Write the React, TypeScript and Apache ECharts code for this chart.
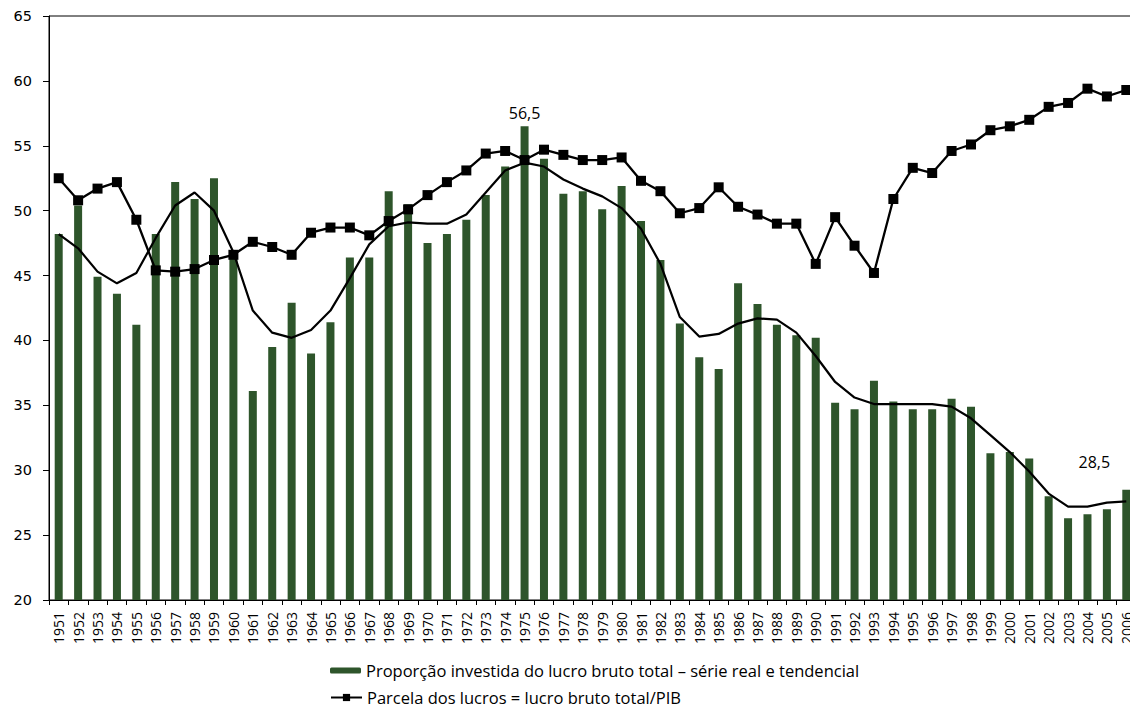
import React, { useEffect, useRef } from "react";
import * as echarts from "echarts";

const years = [
  "1951","1952","1953","1954","1955","1956","1957","1958","1959","1960",
  "1961","1962","1963","1964","1965","1966","1967","1968","1969","1970",
  "1971","1972","1973","1974","1975","1976","1977","1978","1979","1980",
  "1981","1982","1983","1984","1985","1986","1987","1988","1989","1990",
  "1991","1992","1993","1994","1995","1996","1997","1998","1999","2000",
  "2001","2002","2003","2004","2005","2006",
];

const proporcaoInvestida = [
  48.2, 50.4, 44.9, 43.6, 41.2, 48.2, 52.2, 50.9, 52.5, 46.6,
  36.1, 39.5, 42.9, 39.0, 41.4, 46.4, 46.4, 51.5, 50.5, 47.5,
  48.2, 49.3, 51.2, 53.4, 56.5, 54.0, 51.3, 51.5, 50.1, 51.9,
  49.2, 46.2, 41.3, 38.7, 37.8, 44.4, 42.8, 41.2, 40.4, 40.2,
  35.2, 34.7, 36.9, 35.3, 34.7, 34.7, 35.5, 34.9, 31.3, 31.4,
  30.9, 28.0, 26.3, 26.6, 27.0, 28.5,
];

const tendencia = [
  48.2, 47.1, 45.3, 44.4, 45.2, 47.9, 50.4, 51.4, 50.0, 46.8,
  42.3, 40.6, 40.2, 40.8, 42.3, 44.8, 47.4, 48.8, 49.1, 49.0,
  49.0, 49.7, 51.4, 53.1, 53.7, 53.4, 52.4, 51.7, 51.1, 50.2,
  48.6, 45.9, 41.8, 40.3, 40.5, 41.3, 41.7, 41.6, 40.6, 38.8,
  36.8, 35.6, 35.1, 35.1, 35.1, 35.1, 34.9, 34.0, 32.7, 31.4,
  29.9, 28.2, 27.2, 27.2, 27.5, 27.6,
];

const parcelaLucros = [
  52.5, 50.8, 51.7, 52.2, 49.3, 45.4, 45.3, 45.5, 46.2, 46.6,
  47.6, 47.2, 46.6, 48.3, 48.7, 48.7, 48.1, 49.2, 50.1, 51.2,
  52.2, 53.1, 54.4, 54.6, 53.9, 54.7, 54.3, 53.9, 53.9, 54.1,
  52.3, 51.5, 49.8, 50.2, 51.8, 50.3, 49.7, 49.0, 49.0, 45.9,
  49.5, 47.3, 45.2, 50.9, 53.3, 52.9, 54.6, 55.1, 56.2, 56.5,
  57.0, 58.0, 58.3, 59.4, 58.8, 59.3,
];

const barName = "Proporção investida do lucro bruto total – série real e tendencial";
const lineName = "Parcela dos lucros = lucro bruto total/PIB";
const trendName = "Tendência";

const labelledYears = ["1975", "2006"];

const GREEN = "#2e552b";
const SANS = "'Open Sans', 'Noto Sans', sans-serif";

export default function App() {
  const ref = useRef<HTMLDivElement>(null);

  useEffect(() => {
    if (!ref.current) return;
    const chart = echarts.init(ref.current, undefined, { renderer: "svg" });

    const barData = proporcaoInvestida.map((v, i) => {
      const y = years[i];
      if (!labelledYears.includes(y)) return v;
      const isLast = y === "2006";
      return {
        value: v,
        label: {
          show: true,
          position: "top",
          distance: 5,
          offset: isLast ? [-32, -15] : [0, 0],
          formatter: (p: any) => String(p.value).replace(".", ","),
          color: "#000",
          fontSize: 16,
          fontFamily: SANS,
        },
      };
    });

    const legendText = { fontSize: 16.5, fontFamily: SANS, color: "#000" };

    chart.setOption({
      animation: false,
      backgroundColor: "#fff",
      grid: {
        left: 49,
        right: 0,
        top: 16,
        bottom: 108,
        show: true,
        borderColor: "#000",
        borderWidth: 1,
        backgroundColor: "transparent",
      },
      legend: [
        {
          data: [barName],
          left: 330,
          top: 662,
          padding: 0,
          orient: "vertical",
          itemWidth: 31,
          itemHeight: 6,
          textStyle: legendText,
          selectedMode: false,
        },
        {
          data: [lineName],
          left: 330,
          top: 689,
          padding: 0,
          orient: "vertical",
          itemWidth: 31,
          itemHeight: 9,
          textStyle: legendText,
          selectedMode: false,
        },
      ],
      xAxis: {
        type: "category",
        data: years,
        boundaryGap: true,
        axisLine: { show: true, lineStyle: { color: "#000", width: 1 } },
        axisTick: { show: true, interval: 0, length: 5, inside: false, lineStyle: { color: "#000" } },
        axisLabel: {
          interval: 0,
          rotate: 90,
          margin: 12,
          fontSize: 14,
          fontFamily: SANS,
          color: "#000",
        },
        splitLine: { show: false },
      },
      yAxis: {
        type: "value",
        min: 20,
        max: 65,
        interval: 5,
        axisLine: { show: true, lineStyle: { color: "#000", width: 1 } },
        axisTick: { show: true, length: 6, inside: false, lineStyle: { color: "#000" } },
        axisLabel: {
          margin: 17,
          fontSize: 14.5,
          fontFamily: "'DejaVu Sans', Verdana, sans-serif",
          color: "#000",
        },
        splitLine: { show: false },
      },
      series: [
        {
          name: barName,
          type: "bar",
          data: barData,
          barWidth: 8,
          itemStyle: { color: GREEN },
          z: 1,
        },
        {
          name: trendName,
          type: "line",
          data: tendencia,
          symbol: "none",
          lineStyle: { color: "#000", width: 2.2 },
          itemStyle: { color: "#000" },
          z: 3,
        },
        {
          name: lineName,
          type: "line",
          data: parcelaLucros,
          symbol: "rect",
          symbolSize: 10,
          lineStyle: { color: "#000", width: 2.3 },
          itemStyle: { color: "#000" },
          z: 4,
        },
      ],
    });

    return () => {
      chart.dispose();
    };
  }, []);

  return (
    <div
      style={{
        position: "fixed",
        left: 0,
        top: 0,
        width: 1130,
        height: 708,
        overflow: "hidden",
        background: "#fff",
      }}
    >
      <div ref={ref} style={{ width: 1136, height: 708 }} />
    </div>
  );
}
